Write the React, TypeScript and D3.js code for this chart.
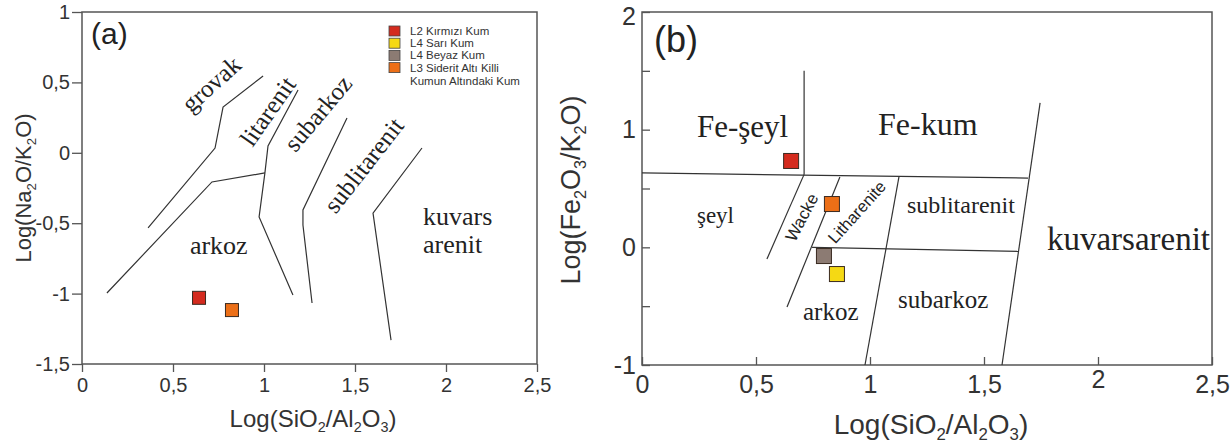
import React, { useEffect, useRef } from "react";
import * as d3 from "d3";

// samples (legend order)
const sampleNames = [
  "L2 Kırmızı Kum",
  "L4 Sarı Kum",
  "L4 Beyaz Kum",
  "L3 Siderit Altı Killi",
];
const sampleColors = ["#d42b1e", "#f5d914", "#8c7b73", "#ec6f17"];
const legendExtraLine = "Kumun Altındaki Kum";

// (a) Log(SiO2/Al2O3) vs Log(Na2O/K2O)
const pointsA = [
  { sample: 0, x: 0.643, y: -1.03 },
  { sample: 3, x: 0.824, y: -1.117 },
];
const fieldLinesA: [number, number][][] = [
  [[0.995, 0.545], [0.775, 0.325], [0.731, 0.034], [0.363, -0.534]],
  [[0.137, -0.996], [0.714, -0.207], [1.005, -0.143]],
  [[1.187, 0.446], [1.022, 0.048], [1.005, -0.143], [0.973, -0.456], [1.159, -1.01]],
  [[1.456, 0.247], [1.214, -0.406], [1.214, -0.513], [1.264, -1.067]],
  [[1.868, 0.034], [1.599, -0.428], [1.698, -1.33]],
];
const fieldLabelsA = [
  { text: "grovak", x: 0.72, y: 0.474, rot: -42, size: 25, anchor: "middle" },
  { text: "litarenit", x: 1.033, y: 0.283, rot: -55, size: 25, anchor: "middle" },
  { text: "subarkoz", x: 1.308, y: 0.268, rot: -50, size: 25, anchor: "middle" },
  { text: "sublitarenit", x: 1.56, y: -0.1, rot: -52, size: 25, anchor: "middle" },
  { text: "kuvars", x: 1.874, y: -0.513, rot: 0, size: 26, anchor: "start" },
  { text: "arenit", x: 1.874, y: -0.712, rot: 0, size: 26, anchor: "start" },
  { text: "arkoz", x: 0.593, y: -0.719, rot: 0, size: 26, anchor: "start" },
];
const xTicksA = [0, 0.5, 1, 1.5, 2, 2.5];
const yTicksA = [1, 0.5, 0, -0.5, -1, -1.5];

// (b) Log(SiO2/Al2O3) vs Log(Fe2O3/K2O)
const pointsB = [
  { sample: 0, x: 0.654, y: 0.734 },
  { sample: 3, x: 0.833, y: 0.368 },
  { sample: 2, x: 0.798, y: -0.074 },
  { sample: 1, x: 0.855, y: -0.227 },
];
const fieldLinesB: [number, number][][] = [
  [[0, 0.632], [1.693, 0.589]],
  [[0.711, 1.5], [0.711, 0.62]],
  [[1.746, 1.227], [1.579, -1.0]],
  [[0.746, 0.0], [1.651, -0.034]],
  [[0.711, 0.62], [0.548, -0.099]],
  [[0.868, 0.598], [0.636, -0.507]],
  [[1.127, 0.598], [0.978, -1.0]],
];
const fieldLabelsB = [
  { text: "Fe-şeyl", x: 0.241, y: 0.938, rot: 0, size: 31, anchor: "start", sans: false },
  { text: "Fe-kum", x: 1.035, y: 0.955, rot: 0, size: 32, anchor: "start", sans: false },
  { text: "şeyl", x: 0.241, y: 0.207, rot: 0, size: 23, anchor: "start", sans: false },
  { text: "Wacke", x: 0.706, y: 0.249, rot: -62, size: 17, anchor: "middle", sans: true },
  { text: "Litharenite", x: 0.947, y: 0.292, rot: -48, size: 16.5, anchor: "middle", sans: true },
  { text: "sublitarenit", x: 1.162, y: 0.292, rot: 0, size: 24, anchor: "start", sans: false },
  { text: "kuvarsarenit", x: 1.776, y: -0.023, rot: 0, size: 33, anchor: "start", sans: false },
  { text: "subarkoz", x: 1.123, y: -0.515, rot: 0, size: 25, anchor: "start", sans: false },
  { text: "arkoz", x: 0.706, y: -0.617, rot: 0, size: 25, anchor: "start", sans: false },
];
const xTicksB = [0, 0.5, 1, 1.5, 2, 2.5];
const yTicksB = [2, 1.5, 1, 0.5, 0, -0.5, -1];
const yLabelledB = [2, 1, 0, -1];

const SANS = "'Liberation Sans', Arial, sans-serif";
const SERIF = "'Liberation Serif', 'Times New Roman', serif";
const fmt = (d: number) => String(d).replace(".", ",");

type Sel = d3.Selection<SVGGElement, unknown, null, undefined>;

// odd entries of parts are drawn as subscripts
function subText(t: any, parts: string[], size: number) {
  const shift = size * 0.22;
  parts.forEach((p, i) => {
    if (i % 2 === 1) {
      t.append("tspan").attr("font-size", size * 0.6).attr("dy", shift).text(p);
    } else {
      t.append("tspan").attr("dy", i === 0 ? 0 : -shift).text(p);
    }
  });
}

const App: React.FC = () => {
  const ref = useRef<SVGSVGElement>(null);

  useEffect(() => {
    if (!ref.current) return;
    const svg = d3.select(ref.current);
    svg.selectAll("*").remove();

    const line = (x: d3.ScaleLinear<number, number>, y: d3.ScaleLinear<number, number>) =>
      d3.line<[number, number]>().x((d) => x(d[0])).y((d) => y(d[1]));

    // ---------- panel (a) ----------
    const xA = d3.scaleLinear().domain([0, 2.5]).range([82, 537]);
    const yA = d3.scaleLinear().domain([-1.5, 1]).range([364, 12]);
    const gA = svg.append("g") as unknown as Sel;

    gA.append("rect")
      .attr("x", xA(0)).attr("y", yA(1))
      .attr("width", xA(2.5) - xA(0)).attr("height", yA(-1.5) - yA(1))
      .attr("fill", "none").attr("stroke", "#555").attr("stroke-width", 1.5);

    gA.append("g")
      .attr("transform", `translate(0,${yA(-1.5)})`)
      .call(d3.axisBottom(xA).tickValues(xTicksA).tickSize(8).tickPadding(6).tickFormat((d) => fmt(d as number)))
      .call((g) => g.select(".domain").remove());
    gA.append("g")
      .attr("transform", `translate(${xA(0)},0)`)
      .call(d3.axisLeft(yA).tickValues(yTicksA).tickSize(10).tickPadding(2).tickFormat((d) => fmt(d as number)))
      .call((g) => g.select(".domain").remove());
    gA.selectAll(".tick line").attr("stroke", "#555").attr("stroke-width", 1.3);
    gA.selectAll(".tick text").attr("font-family", SANS).attr("font-size", 20).attr("fill", "#333");

    gA.selectAll("path.field")
      .data(fieldLinesA)
      .enter()
      .append("path")
      .attr("class", "field")
      .attr("d", (d) => line(xA, yA)(d))
      .attr("fill", "none")
      .attr("stroke", "#333")
      .attr("stroke-width", 1.2);

    fieldLabelsA.forEach((l) => {
      gA.append("text")
        .attr("transform", `translate(${xA(l.x)},${yA(l.y)}) rotate(${l.rot})`)
        .attr("text-anchor", l.anchor)
        .attr("dominant-baseline", l.rot ? "middle" : "auto")
        .attr("font-family", SERIF)
        .attr("font-size", l.size)
        .attr("fill", "#222")
        .text(l.text);
    });

    gA.selectAll("rect.pt")
      .data(pointsA)
      .enter()
      .append("rect")
      .attr("class", "pt")
      .attr("x", (d) => xA(d.x) - 6.5)
      .attr("y", (d) => yA(d.y) - 6.5)
      .attr("width", 13)
      .attr("height", 13)
      .attr("fill", (d) => sampleColors[d.sample])
      .attr("stroke", "#3a2a20")
      .attr("stroke-width", 1);

    gA.append("text")
      .attr("x", xA(0.05)).attr("y", yA(0.773))
      .attr("font-family", SANS).attr("font-size", 30).attr("fill", "#222")
      .text("(a)");

    // legend
    const leg = gA.append("g").attr("transform", "translate(389,26)");
    sampleNames.forEach((name, i) => {
      leg.append("rect")
        .attr("x", 0).attr("y", i * 12.2)
        .attr("width", 11).attr("height", 10)
        .attr("fill", sampleColors[i]).attr("stroke", "#444").attr("stroke-width", 0.8);
      leg.append("text")
        .attr("x", 21).attr("y", i * 12.2 + 9)
        .attr("font-family", SANS).attr("font-size", 11.5).attr("fill", "#333")
        .text(name);
    });
    leg.append("text")
      .attr("x", 21).attr("y", 4 * 12.2 + 10)
      .attr("font-family", SANS).attr("font-size", 11.5).attr("fill", "#333")
      .text(legendExtraLine);

    const xlabA = gA.append("text")
      .attr("x", 313).attr("y", 427).attr("text-anchor", "middle")
      .attr("font-family", SANS).attr("font-size", 24).attr("fill", "#333");
    subText(xlabA, ["Log(SiO", "2", "/Al", "2", "O", "3", ")"], 24);
    const ylabA = gA.append("text")
      .attr("transform", "translate(31,188) rotate(-90)").attr("text-anchor", "middle")
      .attr("font-family", SANS).attr("font-size", 22).attr("fill", "#333");
    subText(ylabA, ["Log(Na", "2", "O/K", "2", "O)"], 22);

    // ---------- panel (b) ----------
    const xB = d3.scaleLinear().domain([0, 2.5]).range([642, 1212]);
    const yB = d3.scaleLinear().domain([-1, 2]).range([365, 12]);
    const gB = svg.append("g") as unknown as Sel;

    gB.append("rect")
      .attr("x", xB(0)).attr("y", yB(2))
      .attr("width", xB(2.5) - xB(0)).attr("height", yB(-1) - yB(2))
      .attr("fill", "none").attr("stroke", "#555").attr("stroke-width", 1.5);

    gB.append("g")
      .attr("transform", `translate(0,${yB(-1)})`)
      .call(d3.axisBottom(xB).tickValues(xTicksB).tickSize(-8).tickPadding(10).tickFormat((d) => fmt(d as number)))
      .call((g) => g.select(".domain").remove());
    gB.append("g")
      .attr("transform", `translate(${xB(0)},0)`)
      .call(
        d3.axisLeft(yB).tickValues(yTicksB).tickSize(-8).tickPadding(6)
          .tickFormat((d) => (yLabelledB.includes(d as number) ? fmt(d as number) : ""))
      )
      .call((g) => g.select(".domain").remove());
    gB.selectAll(".tick line").attr("stroke", "#555").attr("stroke-width", 1.3);
    gB.selectAll(".tick text").attr("font-family", SANS).attr("font-size", 25).attr("fill", "#333");
    // keep the top label inside the picture, as in the original
    gB.selectAll<SVGTextElement, number>(".tick text")
      .filter((d) => d === 2)
      .attr("dy", "0.5em");

    gB.selectAll("path.field")
      .data(fieldLinesB)
      .enter()
      .append("path")
      .attr("class", "field")
      .attr("d", (d) => line(xB, yB)(d))
      .attr("fill", "none")
      .attr("stroke", "#333")
      .attr("stroke-width", 1.2);

    fieldLabelsB.forEach((l) => {
      gB.append("text")
        .attr("transform", `translate(${xB(l.x)},${yB(l.y)}) rotate(${l.rot})`)
        .attr("text-anchor", l.anchor)
        .attr("dominant-baseline", l.rot ? "middle" : "auto")
        .attr("font-family", l.sans ? SANS : SERIF)
        .attr("font-size", l.size)
        .attr("fill", "#222")
        .text(l.text);
    });

    gB.selectAll("rect.pt")
      .data(pointsB)
      .enter()
      .append("rect")
      .attr("class", "pt")
      .attr("x", (d) => xB(d.x) - 7.5)
      .attr("y", (d) => yB(d.y) - 7.5)
      .attr("width", 15)
      .attr("height", 15)
      .attr("fill", (d) => sampleColors[d.sample])
      .attr("stroke", "#3a2a20")
      .attr("stroke-width", 1);

    gB.append("text")
      .attr("x", xB(0.053)).attr("y", yB(1.66))
      .attr("font-family", SANS).attr("font-size", 36).attr("fill", "#222")
      .text("(b)");

    const xlabB = gB.append("text")
      .attr("x", 931).attr("y", 434).attr("text-anchor", "middle")
      .attr("font-family", SANS).attr("font-size", 28).attr("fill", "#333");
    subText(xlabB, ["Log(SiO", "2", "/Al", "2", "O", "3", ")"], 28);
    const ylabB = gB.append("text")
      .attr("transform", "translate(580,190) rotate(-90)").attr("text-anchor", "middle")
      .attr("font-family", SANS).attr("font-size", 27).attr("fill", "#333");
    subText(ylabB, ["Log(Fe", "2", "O", "3", "/K", "2", "O)"], 27);
  }, []);

  return (
    <svg
      ref={ref}
      width={1231}
      height={446}
      style={{ position: "absolute", left: 0, top: 0, background: "#fff" }}
    />
  );
};

export default App;
